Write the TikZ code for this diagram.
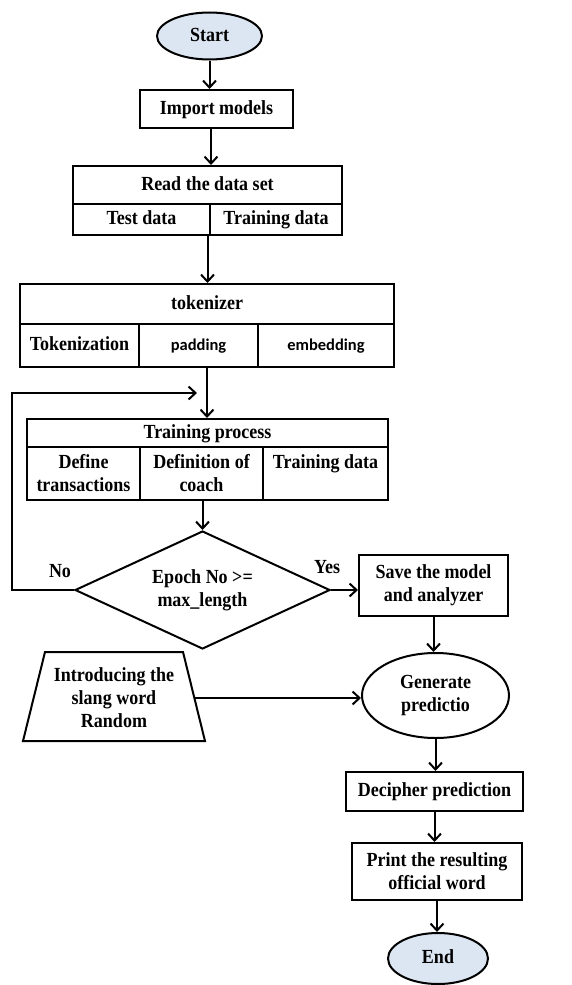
\documentclass[tikz,border=0pt]{standalone}
\usepackage{fontspec}
\setmainfont{Liberation Serif}[FakeStretch=0.9]
\newfontfamily\carlfont{Carlito}
\usetikzlibrary{arrows.meta,shapes.geometric}
\definecolor{startfill}{HTML}{DCE6F2}
\newcommand\myfs{\fontsize{20}{23}\selectfont\bfseries}
\newcommand\mysf{\carlfont\fontsize{16.5}{20}\selectfont\bfseries}
\begin{document}
\begin{tikzpicture}[x=1pt,y=-1pt,
  every node/.style={font=\myfs, inner sep=0pt, align=center, line width=2pt},
  box/.style={draw, rectangle},
  frame/.style={draw, rectangle},
  one/.style={text height=13pt, text depth=3pt},
  term/.style={draw, ellipse, fill=startfill},
  oval/.style={draw, ellipse},
  arr/.style={line width=2pt, -{Straight Barb[length=7pt,width=13pt,line width=2pt]}},
  lbl/.style={font=\myfs}
]
\useasboundingbox (0,0) rectangle (571,985);

% Start
\node[term, one, minimum width=105pt, minimum height=47pt] (start) at (209.5,36) {Start};
% Import models
\node[box, one, minimum width=153pt, minimum height=38pt] (imp) at (216.5,109) {Import models};
% Read the data set
\node[frame, minimum width=269pt, minimum height=69pt] (rd) at (207.5,200.5) {};
\node[box, one, minimum width=269pt, minimum height=38pt] (rdh) at (207.5,185) {Read the data set};
\node[box, one, minimum width=137pt, minimum height=31pt] (rda) at (141.5,219.5) {Test data};
\node[box, one, minimum width=132pt, minimum height=31pt] (rdb) at (276,219.5) {Training data};
% tokenizer
\node[frame, minimum width=374pt, minimum height=83pt] (tok) at (207,325.5) {};
\node[box, one, minimum width=374pt, minimum height=40pt] (tokh) at (207,304) {tokenizer};
\node[box, one, minimum width=119pt, minimum height=43pt] (toka) at (79.5,345.5) {Tokenization};
\node[box, one, minimum width=119pt, minimum height=43pt, font=\mysf] (tokb) at (198.5,345.5) {padding};
\node[box, one, minimum width=136pt, minimum height=43pt, font=\mysf] (tokc) at (326,345.5) {embedding};
% Training process
\node[frame, minimum width=361pt, minimum height=81pt] (tp) at (207.5,459.5) {};
\node[box, one, minimum width=361pt, minimum height=28pt] (tph) at (207.5,433) {Training process};
\node[box, minimum width=113pt, minimum height=53pt] (tpa) at (83.5,473.5) {Define\\transactions};
\node[box, minimum width=123pt, minimum height=53pt] (tpb) at (201.5,473.5) {Definition of\\coach};
\node[box, minimum width=125pt, minimum height=53pt] (tpc) at (325.5,473.5) {Training data\\\phantom{x}};
% Decision
\node[draw, diamond, aspect=2.16, minimum width=255pt, minimum height=118pt] (dia) at (202.5,590) {Epoch No >=\\max\_length};
\node[lbl] (no) at (60,571) {No};
\node[lbl] (yes) at (327,567) {Yes};
% Save
\node[box, minimum width=149pt, minimum height=61pt] (save) at (433.5,585.5) {Save the model\\and analyzer};
% Generate
\node[oval, minimum width=147pt, minimum height=85pt] (gen) at (435.5,695.5) {Generate\\predictio};
% Trapezium (drawn as a path, text node named)
\draw[line width=2pt, line join=miter] (45,652) -- (183,652) -- (205,741) -- (23,741) -- cycle;
\node[minimum width=160pt, minimum height=89pt] (trap) at (114,698) {Introducing the\\slang word\\Random};
% Decipher
\node[box, one, minimum width=177pt, minimum height=39pt] (dec) at (434.5,791.5) {Decipher prediction};
% Print
\node[box, minimum width=170pt, minimum height=57pt] (prt) at (437,871.5) {Print the resulting\\official word};
% End
\node[term, one, minimum width=100pt, minimum height=51pt] (end) at (438,958.5) {End};

% loop coordinates
\coordinate (lc) at (12,393);
\coordinate (le) at (197,393);
\path (rd.north) ++(3.5,0) coordinate (c1);

% connectors
\draw[arr] (start.south) -- (start.south |- imp.north);
\draw[arr] (c1 |- imp.south) -- (c1);
\draw[arr] (rd.south) -- (rd.south |- tok.north);
\draw[arr] (tok.south) -- (tok.south |- tp.north);
\draw[arr] (dia.west) -| (lc) -- (le);
\draw[arr] (tp.south -| dia.north) -- (dia.north);
\draw[arr] (dia.east) -- (dia.east -| save.west);
\draw[arr] (save.south) -- (save.south |- gen.north);
\draw[arr] (trap.east) -- (trap.east -| gen.west);
\draw[arr] (gen.south) -- (gen.south |- dec.north);
\draw[arr] (dec.south) -- (dec.south |- prt.north);
\draw[arr] (prt.south) -- (prt.south |- end.north);
\end{tikzpicture}
\end{document}
